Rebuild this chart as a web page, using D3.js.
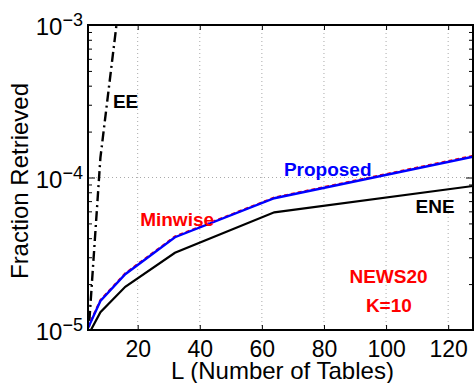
<!DOCTYPE html>
<html>
<head>
<meta charset="utf-8">
<script src="https://cdn.jsdelivr.net/npm/d3@7"></script>
<style>
  body { margin: 0; background: #fff; }
  svg { display: block; font-family: "Liberation Sans", Arial, sans-serif; }
</style>
</head>
<body>
<svg id="chart" width="474" height="383"></svg>
<script>
// L values (number of tables)
const tables = [4, 8, 16, 32, 64, 128];
const proposed = [1.03e-5, 1.55e-5, 2.32e-5, 4.06e-5, 7.31e-5, 1.37e-4];
const minwise = [1.04e-5, 1.57e-5, 2.35e-5, 4.1e-5, 7.38e-5, 1.385e-4];
const ene = [0.92e-5, 1.31e-5, 1.92e-5, 3.21e-5, 5.91e-5, 8.8e-5];
const eeTables = [4, 8, 16];
const ee = [8.5e-6, 1.35e-4, 3e-3];
const xTicks = [20, 40, 60, 80, 100, 120];
const yTicks = [1e-5, 1e-4, 1e-3];
const yTickExp = ["−5", "−4", "−3"];

const cfg = {
    left: 88,
    right: 473,
    top: 25,
    bottom: 330,
    font: 23,
};

const svg = d3.select("#chart");

const x = d3.scaleLinear().domain([4, 128]).range([cfg.left, cfg.right]);
const y = d3.scaleLog().domain([1e-5, 1e-3]).range([cfg.bottom, cfg.top]);

// minor log ticks
var minor = [];
[1e-5, 1e-4].forEach(d => {
    for (let k = 2; k <= 9; k++) minor.push(d * k);
});

// grid
const grid = svg.append("g").attr("stroke", "#aaa").attr("stroke-dasharray", "1,3");
grid.selectAll("line.vx")
    .data(xTicks)
    .enter()
    .append("line")
    .attr("x1", d => x(d))
    .attr("x2", d => x(d))
    .attr("y1", cfg.top)
    .attr("y2", cfg.bottom);
grid.append("line")
    .attr("x1", cfg.left)
    .attr("x2", cfg.right)
    .attr("y1", y(1e-4))
    .attr("y2", y(1e-4));

// clip area
svg.append("clipPath")
    .attr("id", "plot-clip")
    .append("rect")
    .attr("x", cfg.left)
    .attr("y", cfg.top)
    .attr("width", cfg.right - cfg.left)
    .attr("height", cfg.bottom - cfg.top);

const plot = svg.append("g").attr("clip-path", "url(#plot-clip)");

function drawLine(xs, ys, color, width, dash) {
    var line = d3.line()
        .x((d, i) => x(xs[i]))
        .y(d => y(d));
    var p = plot.append("path")
        .datum(ys)
        .attr("d", line)
        .attr("fill", "none")
        .attr("stroke", color)
        .attr("stroke-width", width);
    if (dash) p.attr("stroke-dasharray", dash);
}

drawLine(eeTables, ee, "#000", 2.4, "10,4,2,4");
drawLine(tables, ene, "#000", 2.2);
drawLine(tables, minwise, "#ff0000", 2.2, "4,3");
drawLine(tables, proposed, "#0000ff", 2.4);

// axes (ticks inside)
const axes = svg.append("g");
const bottomAxis = axes.append("g")
    .attr("transform", "translate(0," + cfg.bottom + ")")
    .call(d3.axisBottom(x).tickValues(xTicks).tickSize(-5).tickFormat(d3.format("d")));
axes.append("g")
    .attr("transform", "translate(0," + cfg.top + ")")
    .call(d3.axisTop(x).tickValues(xTicks).tickSize(-5).tickFormat(""));
axes.append("g")
    .attr("transform", "translate(" + cfg.left + ",0)")
    .call(d3.axisLeft(y).tickValues(yTicks).tickSize(-7).tickFormat(""));
axes.append("g")
    .attr("transform", "translate(" + cfg.right + ",0)")
    .call(d3.axisRight(y).tickValues(yTicks).tickSize(-7).tickFormat(""));
axes.append("g")
    .attr("transform", "translate(" + cfg.left + ",0)")
    .call(d3.axisLeft(y).tickValues(minor).tickSize(-4).tickFormat(""));
axes.append("g")
    .attr("transform", "translate(" + cfg.right + ",0)")
    .call(d3.axisRight(y).tickValues(minor).tickSize(-4).tickFormat(""));

axes.selectAll(".domain").remove();
axes.selectAll("line").attr("stroke", "#000").attr("stroke-width", 1);

bottomAxis.selectAll("text")
    .attr("font-size", cfg.font)
    .attr("font-family", "Liberation Sans, Arial, sans-serif")
    .attr("fill", "#000")
    .attr("y", 0)
    .attr("dy", 27);

// box
svg.append("rect")
    .attr("x", cfg.left)
    .attr("y", cfg.top)
    .attr("width", cfg.right - cfg.left)
    .attr("height", cfg.bottom - cfg.top)
    .attr("fill", "none")
    .attr("stroke", "#000")
    .attr("stroke-width", 2);

// y tick labels as 10^n
const yl = svg.append("g");
yTicks.forEach((d, i) => {
    var t = yl.append("text")
        .attr("x", cfg.left - 5)
        .attr("y", y(d) + 10)
        .attr("text-anchor", "end")
        .attr("font-size", 24)
        .attr("fill", "#000");
    t.append("tspan").text("10");
    t.append("tspan")
        .attr("dy", -9)
        .attr("font-size", 18)
        .text(yTickExp[i]);
});

// axis labels
svg.append("text")
    .attr("x", (cfg.left + cfg.right) / 2 + 2)
    .attr("y", 379)
    .attr("text-anchor", "middle")
    .attr("font-size", 24)
    .text("L (Number of Tables)");

svg.append("text")
    .attr("transform", "translate(28,181) rotate(-90)")
    .attr("text-anchor", "middle")
    .attr("font-size", 24)
    .text("Fraction Retrieved");

// annotations, positioned in data coordinates (centre, baseline)
const notes = [
    { text: "EE", lx: 16.1, ly: 2.86e-4, color: "#000" },
    { text: "Minwise", lx: 32.7, ly: 4.81e-5, color: "#ff0000" },
    { text: "Proposed", lx: 81.2, ly: 1.016e-4, color: "#0000ff" },
    { text: "ENE", lx: 115.8, ly: 5.85e-5, color: "#000" },
    { text: "NEWS20", lx: 100.8, ly: 2.03e-5, color: "#ff0000" },
    { text: "K=10", lx: 100.9, ly: 1.31e-5, color: "#ff0000" },
];
svg.append("g")
    .selectAll("text")
    .data(notes)
    .enter()
    .append("text")
    .attr("x", d => x(d.lx))
    .attr("y", d => y(d.ly))
    .attr("text-anchor", "middle")
    .attr("font-size", 19)
    .attr("font-weight", "bold")
    .attr("fill", d => d.color)
    .text(d => d.text);
</script>
</body>
</html>
